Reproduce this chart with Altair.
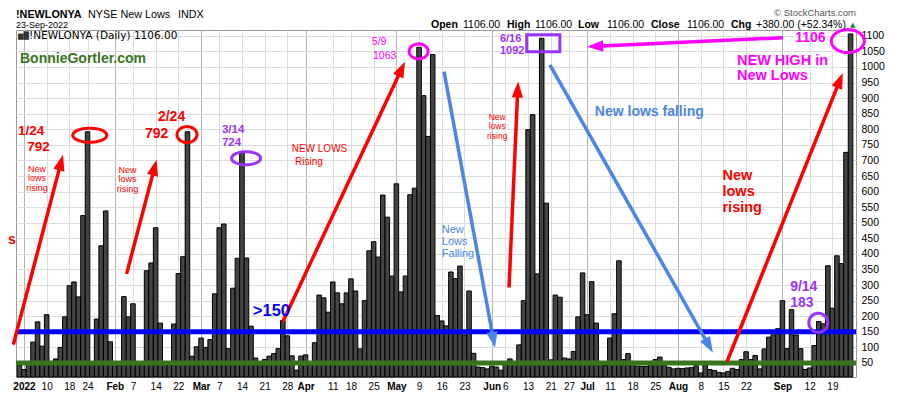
import math
import altair as alt
import pandas as pd

# ---------------- data ----------------
holidays = ["2022-01-17", "2022-02-21", "2022-04-15", "2022-05-30",
            "2022-06-20", "2022-07-04", "2022-09-05"]
trade_days = [d.strftime("%Y-%m-%d") for d in pd.bdate_range("2021-12-31", "2022-09-23")
              if d.strftime("%Y-%m-%d") not in holidays]

dec_2021 = [42]
jan = [29, 48, 117, 182, 104, 205, 48, 63, 100, 198, 298, 310, 262, 523, 792, 48, 191, 426, 538, 118]
feb = [50, 50, 263, 198, 240, 50, 50, 346, 371, 484, 178, 50, 50, 175, 337, 391, 792, 72, 102]
mar = [130, 100, 125, 272, 484, 496, 96, 290, 386, 724, 387, 168, 66, 50, 61, 72, 80, 96, 186, 137, 73, 27, 72]
apr = [76, 50, 115, 268, 259, 213, 310, 275, 240, 275, 320, 281, 95, 250, 410, 439, 390, 589, 518, 329]
may = [625, 278, 329, 590, 611, 1063, 908, 777, 1040, 202, 185, 169, 342, 321, 361, 140, 281, 81, 37, 35, 31]
jun = [40, 37, 27, 53, 63, 55, 108, 250, 799, 847, 336, 1092, 563, 60, 268, 261, 66, 63, 87, 198, 339]
jul = [205, 311, 178, 50, 42, 130, 208, 378, 61, 80, 55, 40, 39, 39, 45, 61, 69, 50, 36, 31]
aug = [33, 32, 34, 35, 41, 18, 44, 29, 26, 20, 18, 23, 33, 29, 61, 86, 61, 74, 31, 95, 133, 146, 160]
sep = [250, 96, 221, 140, 96, 29, 34, 106, 183, 176, 362, 226, 394, 369, 726, 1106]
new_lows = dec_2021 + jan + feb + mar + apr + may + jun + jul + aug + sep

tick_dates = ["2022-01-03", "2022-01-10", "2022-01-18", "2022-01-24", "2022-02-01", "2022-02-07",
              "2022-02-14", "2022-02-22", "2022-03-01", "2022-03-07", "2022-03-14", "2022-03-21",
              "2022-03-28", "2022-04-01", "2022-04-11", "2022-04-18", "2022-04-25", "2022-05-02",
              "2022-05-09", "2022-05-16", "2022-05-23", "2022-06-01", "2022-06-06", "2022-06-13",
              "2022-06-21", "2022-06-27", "2022-07-01", "2022-07-11", "2022-07-18", "2022-07-25",
              "2022-08-01", "2022-08-08", "2022-08-15", "2022-08-22", "2022-09-01", "2022-09-12",
              "2022-09-19"]
tick_text = ["2022", "10", "18", "24", "Feb", "7", "14", "22", "Mar", "7", "14", "21", "28", "Apr",
             "11", "18", "25", "May", "9", "16", "23", "Jun", "6", "13", "21", "27", "Jul", "11", "18",
             "25", "Aug", "8", "15", "22", "Sep", "12", "19"]
y_ticks = list(range(50, 1101, 50))

# ---------------- styling ----------------
FONT = "Liberation Sans"
RED, PURPLE, MAGENTA = "#ff0000", "#9933ff", "#ff00ff"
CORN, BLUE, GREEN = "#4a86e8", "#0000ff", "#38761d"
PAD_L, PAD_T = 8, 22          # plot origin on the page = (16, 30)
W, H = 840, 347
XDOM = [-0.75, 184.2]
YDOM = [5, 1118.6]
xscale = alt.Scale(domain=XDOM, nice=False, zero=False)
yscale = alt.Scale(domain=YDOM, nice=False, zero=False)


def k2x(k):
    return (k - XDOM[0]) * W / (XDOM[1] - XDOM[0])


def v2y(v):
    return (YDOM[1] - v) * H / (YDOM[1] - YDOM[0])


def x2k(x):
    return XDOM[0] + x * (XDOM[1] - XDOM[0]) / W


def y2v(y):
    return YDOM[1] - y * (YDOM[1] - YDOM[0]) / H


tick_k = [trade_days.index(d) for d in tick_dates]
month_k = [k for k, t in zip(tick_k, tick_text) if len(t) > 2]
label_expr = ("[" + ",".join("'%s'" % t for t in tick_text) + "][indexof(["
              + ",".join(str(k) for k in tick_k) + "], datum.value)]")

X_AXIS = alt.Axis(values=tick_k, labelExpr=label_expr, title=None, ticks=False, domain=False,
                  labelFont=FONT, labelFontSize=10, labelColor="#000", labelPadding=4,
                  labelOverlap=False, labelFlush=False,
                  labelFontWeight={"condition": {"test": "indexof(%s, datum.value) >= 0" % month_k,
                                                 "value": "bold"}, "value": "normal"},
                  grid=True, gridWidth=1,
                  gridColor={"condition": {"test": "indexof(%s, datum.value) >= 0" % month_k,
                                           "value": "#b4b4b4"}, "value": "#dcdcdc"})
Y_AXIS = alt.Axis(orient="right", values=y_ticks, format="d", title=None, ticks=False, domain=False,
                  labelFont=FONT, labelFontSize=10.5, labelColor="#000", labelPadding=5,
                  grid=True, gridColor="#dcdcdc", gridWidth=1)


def XY(ch):
    return ch.encode(x=alt.X("k:Q", scale=xscale, axis=X_AXIS),
                     y=alt.Y("v:Q", scale=yscale, axis=Y_AXIS))


df = pd.DataFrame({"k": list(range(len(new_lows))), "v": new_lows, "date": trade_days})
df["x0"] = df["k"] - 0.5
df["x1"] = df["k"] + 0.5

bars = alt.Chart(df).mark_bar(fill="#444444", stroke="#000000", strokeWidth=1).encode(
    x=alt.X("x0:Q", scale=xscale, axis=X_AXIS),
    x2="x1:Q",
    y=alt.Y("v:Q", scale=yscale, axis=Y_AXIS),
    y2=alt.datum(YDOM[0]),
    tooltip=["date:N", "v:Q"],
)

levels = pd.DataFrame({"v": [150, 50], "c": [BLUE, GREEN]})
level_lines = alt.Chart(levels).mark_rule(strokeWidth=5).encode(
    y=alt.Y("v:Q", scale=yscale, axis=Y_AXIS), color=alt.Color("c:N", scale=None))

layers = [bars, level_lines]


def note(k, v, text, color, size, bold=False, align="left", baseline="middle", lh=None):
    kw = dict(align=align, baseline=baseline, font=FONT, fontSize=size,
              fontWeight="bold" if bold else "normal", color=color)
    if "\n" in text:
        kw["lineBreak"] = "\n"
        if lh:
            kw["lineHeight"] = lh
    d = pd.DataFrame({"k": [k], "v": [v], "t": [text]})
    return XY(alt.Chart(d).mark_text(**kw)).encode(text="t:N")


def ellipse(k, v, rx, ry, color, width=3):
    r = ry / rx
    n = 48
    pts = [(math.cos(2 * math.pi * i / n), r * math.sin(2 * math.pi * i / n)) for i in range(n)]
    path = "M" + " L".join("%.4f,%.4f" % p for p in pts) + " Z"
    d = pd.DataFrame({"k": [k], "v": [v]})
    return XY(alt.Chart(d).mark_point(shape=path, size=(2 * rx) ** 2, filled=False, stroke=color,
                                      strokeWidth=width, opacity=1))


HEAD = "M0,-1 L0.62,0.75 L-0.62,0.75 Z"


def arrow(k0, v0, k1, v1, color, width=3.5, head=16):
    x0, y0, x1, y1 = k2x(k0), v2y(v0), k2x(k1), v2y(v1)
    L = math.hypot(x1 - x0, y1 - y0)
    ux, uy = (x1 - x0) / L, (y1 - y0) / L
    sc = head / 1.75
    cx, cy = x1 - ux * sc, y1 - uy * sc
    ang = math.degrees(math.atan2(ux, -uy)) % 360
    d = pd.DataFrame({"k": [k0], "v": [v0], "k2": [x2k(cx)], "v2": [y2v(cy)]})
    line = XY(alt.Chart(d).mark_rule(color=color, strokeWidth=width)).encode(x2="k2:Q", y2="v2:Q")
    h = pd.DataFrame({"k": [x2k(cx)], "v": [y2v(cy)]})
    tip = XY(alt.Chart(h).mark_point(shape=HEAD, size=(2 * sc) ** 2, filled=True, fill=color,
                                     opacity=1, strokeWidth=0, angle=ang))
    return [line, tip]


# arrows
for a in [(-1.34, 109, 9.6, 718, RED), (23.6, 336, 30.2, 702, RED), (58.0, 182, 84.9, 1017, RED),
          (107.8, 292, 109.8, 953, RED), (155.8, 54, 181.3, 981, RED),
          (93.5, 985, 104.7, 99, CORN), (116.8, 1007, 152.7, 83, CORN),
          (168.1, 1094, 125.0, 1065, MAGENTA)]:
    layers += arrow(*a)

# rings
layers += [ellipse(15.5, 781, 17, 7, RED), ellipse(36.9, 783, 10, 8, RED),
           ellipse(49.9, 707, 14.5, 6.5, PURPLE), ellipse(87.9, 1050, 9.5, 7.5, MAGENTA),
           ellipse(182.4, 1083, 16.5, 11.5, MAGENTA), ellipse(175.9, 179, 9.5, 9.5, PURPLE)]

box = pd.DataFrame({"k": [111.7], "k2": [119.0], "v": [1049], "v2": [1103.5]})
layers.append(XY(alt.Chart(box).mark_rect(fillOpacity=0, stroke=PURPLE, strokeWidth=3))
              .encode(x2="k2:Q", y2="v2:Q"))

# text notes
layers += [
    note(-0.3, 793, "1/24", RED, 13.5, True), note(1.7, 743, "792", RED, 13.5, True),
    note(3.9, 686, "New\nlows\nrising", RED, 9, align="center", baseline="top", lh=9.5),
    note(23.8, 683, "New\nlows\nrising", RED, 9, align="center", baseline="top", lh=9.5),
    note(30.5, 840, "2/24", RED, 14, True), note(27.65, 786, "792", RED, 14, True),
    note(44.6, 799, "3/14", PURPLE, 11.5, True), note(44.6, 757, "724", PURPLE, 11.5, True),
    note(59.95, 738, "NEW LOWS", RED, 10), note(60.7, 696, "Rising", RED, 10),
    note(51.4, 216, ">150", BLUE, 16.5, True),
    note(77.6, 1079, "5/9", MAGENTA, 10.5), note(77.85, 1036, "1063", MAGENTA, 10.5),
    note(93.0, 497, "New\nLows\nFalling", CORN, 11, baseline="top", lh=12),
    note(105.2, 853, "New\nlows\nrising", RED, 8.5, align="center", baseline="top", lh=9.5),
    note(105.8, 1091, "6/16", PURPLE, 11, True), note(105.8, 1052, "1092", PURPLE, 11, True),
    note(126.7, 856, "New lows falling", CORN, 14, True),
    note(170.8, 1092, "1106", MAGENTA, 14, True),
    note(158.0, 1020, "NEW HIGH in", MAGENTA, 14.5, True),
    note(158.0, 972, "New Lows", MAGENTA, 14.5, True),
    note(154.8, 674, "New\nlows\nrising", RED, 14.5, True, baseline="top", lh=16),
    note(169.7, 293, "9/14", PURPLE, 14, True), note(169.7, 242, "183", PURPLE, 14, True),
    note(-2.5, 444, "s", RED, 14, True),
]


# header / frame texts, given in page pixels and shifted to the plot origin
def label(px, py, text, size, bold=False, color="#000", align="left", baseline="alphabetic", font=FONT):
    d = pd.DataFrame({"t": [text]})
    return alt.Chart(d).mark_text(align=align, baseline=baseline, font=font, fontSize=size,
                                  fontWeight="bold" if bold else "normal", color=color).encode(
        x=alt.value(px - 8 - PAD_L), y=alt.value(py - 8 - PAD_T), text="t:N")


layers += [
    label(16, 17.8, "!NEWLONYA", 10.8, True),
    label(88, 17.8, "NYSE New Lows", 10.8),
    label(178, 17.8, "INDX", 10.8),
    label(16, 28.3, "23-Sep-2022", 9),
    label(856, 16.2, "\u00a9 StockCharts.com", 9.5, color="#555555", align="right"),
    label(431, 27.8, "Open", 10.5, True), label(463, 27.8, "1106.00", 10.5),
    label(507, 27.8, "High", 10.5, True), label(535, 27.8, "1106.00", 10.5),
    label(578, 27.8, "Low", 10.5, True), label(607, 27.8, "1106.00", 10.5),
    label(651, 27.8, "Close", 10.5, True), label(687, 27.8, "1106.00", 10.5),
    label(731, 27.8, "Chg", 10.5, True), label(756, 27.8, "+380.00 (+52.34%)", 10.5),
    label(850, 26.8, "\u25b2", 7, color="#2e7d32", font="DejaVu Sans"),
    label(18, 36, "\u2586\u2588", 7, color="#333333", baseline="middle", font="DejaVu Sans"),
    label(29, 36, "!NEWLONYA (Daily) 1106.00", 10.5, baseline="middle", font="DejaVu Sans"),
    label(20, 58.5, "BonnieGortler.com", 14, True, color=GREEN, baseline="middle"),
]

chart = alt.layer(*layers).properties(
    width=W, height=H,
    autosize=alt.AutoSizeParams(type="none"),
    padding={"left": PAD_L, "top": PAD_T, "right": 36, "bottom": 15},
    background="white",
).configure_view(stroke="#9a9a9a", strokeWidth=1)

chart.save("out.html", embed_options={"renderer": "svg", "actions": False})
